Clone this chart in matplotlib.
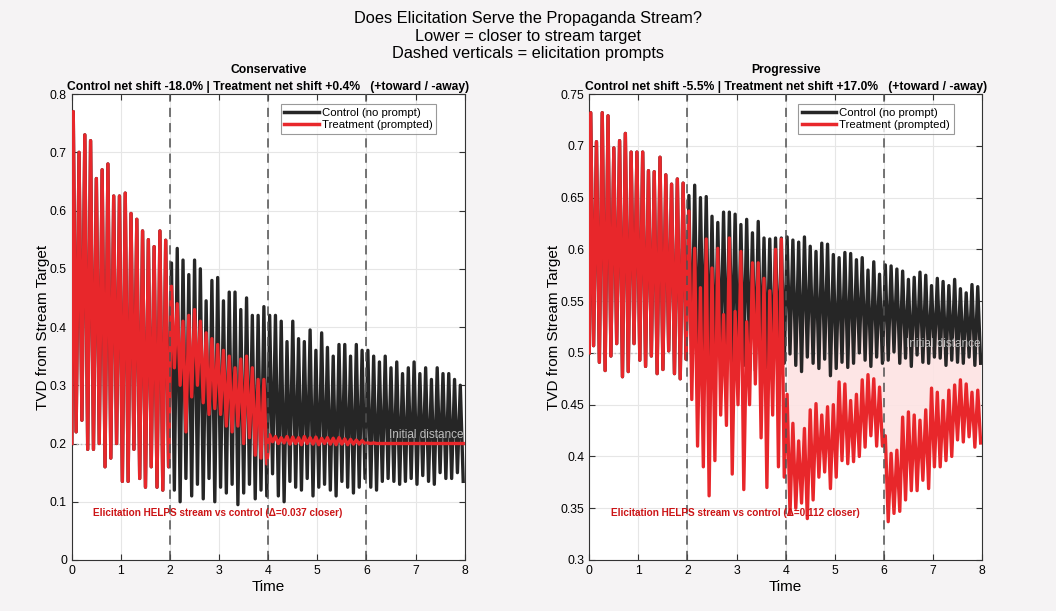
import numpy as np
import matplotlib
matplotlib.use("Agg")
import matplotlib.pyplot as plt
from matplotlib.ticker import FormatStrFormatter

plt.rcParams['font.family'] = ['Liberation Sans', 'DejaVu Sans']

# ---- data (peak / trough value of each oscillation cycle) ----
# 4 segments of 17 cycles each: 0-2, 2-4, 4-6, 6-8
prompt_times = [2, 4, 6]

# Conservative
cons_init = 0.20
cons_treat_peaks = [
    0.77, 0.70, 0.73, 0.72, 0.655, 0.67, 0.68, 0.625, 0.625, 0.63, 0.595, 0.585, 0.565, 0.55, 0.538, 0.565, 0.549,
    0.47, 0.44, 0.41, 0.42, 0.43, 0.41, 0.39, 0.38, 0.37, 0.36, 0.35, 0.33, 0.345, 0.35, 0.33, 0.31, 0.31,
    0.215, 0.212, 0.21, 0.212, 0.211, 0.21, 0.212, 0.21, 0.211, 0.209, 0.21, 0.209, 0.21, 0.208, 0.207, 0.206, 0.205,
    0.201, 0.201, 0.2, 0.2, 0.2, 0.2, 0.2, 0.2, 0.2, 0.2, 0.2, 0.2, 0.2, 0.2, 0.2, 0.2, 0.2,
]
cons_treat_troughs = [
    0.22, 0.24, 0.19, 0.19, 0.20, 0.16, 0.175, 0.20, 0.135, 0.135, 0.19, 0.14, 0.125, 0.16, 0.125, 0.12, 0.16,
    0.33, 0.30, 0.22, 0.28, 0.30, 0.27, 0.25, 0.26, 0.25, 0.23, 0.22, 0.23, 0.20, 0.21, 0.18, 0.175, 0.165,
    0.203, 0.20, 0.201, 0.199, 0.20, 0.198, 0.20, 0.199, 0.198, 0.20, 0.199, 0.198, 0.199, 0.198, 0.199, 0.199, 0.20,
    0.2, 0.2, 0.2, 0.2, 0.2, 0.2, 0.2, 0.2, 0.2, 0.2, 0.2, 0.2, 0.2, 0.2, 0.2, 0.2, 0.2,
]
cons_ctrl_peaks = cons_treat_peaks[:17] + [
    0.51, 0.535, 0.515, 0.49, 0.515, 0.50, 0.445, 0.48, 0.485, 0.445, 0.46, 0.46, 0.43, 0.45, 0.42, 0.42, 0.435,
    0.42, 0.42, 0.41, 0.375, 0.41, 0.38, 0.375, 0.395, 0.36, 0.39, 0.365, 0.35, 0.37, 0.37, 0.35, 0.37, 0.36,
    0.36, 0.35, 0.34, 0.35, 0.33, 0.34, 0.32, 0.33, 0.34, 0.32, 0.33, 0.31, 0.33, 0.32, 0.32, 0.31, 0.30,
]
cons_ctrl_troughs = cons_treat_troughs[:17] + [
    0.12, 0.10, 0.14, 0.11, 0.13, 0.105, 0.14, 0.10, 0.125, 0.115, 0.13, 0.095, 0.115, 0.13, 0.105, 0.12, 0.11,
    0.148, 0.11, 0.10, 0.135, 0.125, 0.12, 0.14, 0.11, 0.125, 0.13, 0.12, 0.11, 0.135, 0.125, 0.115, 0.125, 0.14,
    0.125, 0.12, 0.135, 0.14, 0.135, 0.13, 0.135, 0.14, 0.13, 0.145, 0.135, 0.13, 0.15, 0.14, 0.14, 0.15, 0.135,
]

# Progressive
prog_init = 0.50
prog_treat_peaks = [
    0.732, 0.704, 0.732, 0.729, 0.698, 0.705, 0.712, 0.694, 0.694, 0.694, 0.676, 0.675, 0.689, 0.672, 0.663, 0.668, 0.664,
    0.637, 0.601, 0.563, 0.61, 0.582, 0.601, 0.537, 0.611, 0.54, 0.598, 0.53, 0.587, 0.587, 0.572, 0.56, 0.60, 0.61,
    0.46, 0.432, 0.415, 0.427, 0.445, 0.451, 0.44, 0.448, 0.45, 0.472, 0.47, 0.454, 0.46, 0.474, 0.479, 0.475, 0.467,
    0.42, 0.403, 0.406, 0.438, 0.443, 0.44, 0.435, 0.445, 0.466, 0.462, 0.454, 0.464, 0.469, 0.474, 0.47, 0.462, 0.464,
]
prog_treat_troughs = [
    0.507, 0.491, 0.483, 0.497, 0.509, 0.477, 0.482, 0.509, 0.493, 0.487, 0.497, 0.480, 0.484, 0.502, 0.480, 0.475, 0.494,
    0.455, 0.41, 0.39, 0.362, 0.396, 0.44, 0.43, 0.383, 0.45, 0.368, 0.45, 0.47, 0.418, 0.37, 0.44, 0.39, 0.38,
    0.345, 0.35, 0.355, 0.34, 0.358, 0.38, 0.385, 0.369, 0.38, 0.396, 0.393, 0.395, 0.40, 0.409, 0.42, 0.41, 0.41,
    0.337, 0.345, 0.347, 0.358, 0.367, 0.367, 0.377, 0.369, 0.39, 0.39, 0.396, 0.40, 0.416, 0.414, 0.419, 0.409, 0.413,
]
prog_ctrl_peaks = prog_treat_peaks[:17] + [
    0.652, 0.662, 0.65, 0.651, 0.632, 0.626, 0.636, 0.636, 0.634, 0.624, 0.629, 0.616, 0.627, 0.611, 0.61, 0.611, 0.611,
    0.612, 0.609, 0.607, 0.612, 0.603, 0.598, 0.606, 0.605, 0.595, 0.592, 0.597, 0.596, 0.590, 0.592, 0.580, 0.588, 0.576,
    0.585, 0.584, 0.581, 0.579, 0.571, 0.573, 0.578, 0.575, 0.565, 0.572, 0.569, 0.565, 0.571, 0.562, 0.558, 0.566, 0.564,
]
prog_ctrl_troughs = prog_treat_troughs[:17] + [
    0.49, 0.482, 0.495, 0.486, 0.478, 0.49, 0.484, 0.492, 0.48, 0.488, 0.494, 0.483, 0.49, 0.486, 0.48, 0.488, 0.49,
    0.499, 0.488, 0.482, 0.496, 0.49, 0.485, 0.494, 0.478, 0.485, 0.491, 0.486, 0.49, 0.50, 0.493, 0.487, 0.496, 0.49,
    0.493, 0.501, 0.49, 0.495, 0.487, 0.498, 0.491, 0.49, 0.496, 0.495, 0.488, 0.493, 0.491, 0.49, 0.496, 0.488, 0.49,
]

panels = [
    dict(name="Conservative", init=cons_init, ylim=(0, 0.8), yticks=np.arange(0, 0.81, 0.1),
         ctrl=(cons_ctrl_peaks, cons_ctrl_troughs), treat=(cons_treat_peaks, cons_treat_troughs),
         ctrl_shift="-18.0%", treat_shift="+0.4%", delta="0.037", fill=False),
    dict(name="Progressive", init=prog_init, ylim=(0.3, 0.75), yticks=np.arange(0.3, 0.751, 0.05),
         ctrl=(prog_ctrl_peaks, prog_ctrl_troughs), treat=(prog_treat_peaks, prog_treat_troughs),
         ctrl_shift="-5.5%", treat_shift="+17.0%", delta="0.112", fill=True),
]

T_END = 8


def build_series(init, peaks, troughs):
    # each cycle contributes its peak then its trough, spaced evenly over time
    n = len(peaks)
    period = T_END / n
    t = [0.0]
    y = [init]
    for k in range(n):
        t += [(k + 0.25) * period, (k + 0.75) * period]
        y += [peaks[k], troughs[k]]
    return np.array(t), np.array(y)


BLACK = "#262626"
RED = "#e8272b"

fig = plt.figure(figsize=(10.56, 6.11), dpi=100, facecolor="#f5f3f4")
fig.text(0.5, 0.969, "Does Elicitation Serve the Propaganda Stream?", ha="center", va="center", fontsize=11.8)
fig.text(0.5, 0.941, "Lower = closer to stream target", ha="center", va="center", fontsize=11.8)
fig.text(0.5, 0.913, "Dashed verticals = elicitation prompts", ha="center", va="center", fontsize=11.8)

axes_pos = [[0.068, 0.0835, 0.372, 0.7625], [0.558, 0.0835, 0.372, 0.7625]]

for pos, p in zip(axes_pos, panels):
    ax = fig.add_axes(pos)
    ax.set_facecolor("white")

    tc, yc = build_series(p["init"], *p["ctrl"])
    tt, yt = build_series(p["init"], *p["treat"])

    if p["fill"]:
        ax.fill_between(tt, yt, yc, where=(tt >= 4) & (yt < yc), color="#fde3e3", alpha=0.9,
                        linewidth=0, zorder=1)

    ax.plot(tc, yc, color=BLACK, lw=2.4, solid_joinstyle="round", label="Control (no prompt)", zorder=3)
    ax.plot(tt, yt, color=RED, lw=2.4, solid_joinstyle="round", label="Treatment (prompted)", zorder=4)

    for pt in prompt_times:
        ax.axvline(pt, color="#505050", lw=1.1, linestyle=(0, (6, 4)), zorder=5)

    ax.axhline(p["init"], color="#bdbdbd", lw=1.0, linestyle=(0, (1, 2)), zorder=2)
    ax.text(7.97, p["init"] + (p["ylim"][1] - p["ylim"][0]) * 0.006, "Initial distance", ha="right",
            va="bottom", fontsize=8.5, color="#bcbcbc", zorder=6)

    ax.text(0.055, 0.10, "Elicitation HELPS stream vs control (\u0394=%s closer)" % p["delta"],
            transform=ax.transAxes, fontsize=7.2, fontweight="bold", color="#cc1416", ha="left",
            va="center", zorder=6)

    ax.set_xlim(0, 8)
    ax.set_ylim(*p["ylim"])
    ax.set_xticks(range(0, 9))
    ax.set_yticks(p["yticks"])
    ax.yaxis.set_major_formatter(FormatStrFormatter("%g"))
    ax.grid(True, color="#e6e6e6", lw=0.8, zorder=0)
    ax.set_axisbelow(True)
    ax.tick_params(direction="in", top=True, right=True, labelsize=8.8, length=4, color="#333333")
    for s in ax.spines.values():
        s.set_color("#333333")
        s.set_linewidth(0.8)

    ax.set_xlabel("Time", fontsize=11, labelpad=2)
    ax.set_ylabel("TVD from Stream Target", fontsize=11, labelpad=0)
    ax.set_title("%s\nControl net shift %s | Treatment net shift %s   (+toward / -away)"
                 % (p["name"], p["ctrl_shift"], p["treat_shift"]),
                 fontsize=8.7, fontweight="bold", pad=3, linespacing=1.5)

    leg = ax.legend(loc="upper right", fontsize=8.2, frameon=True, fancybox=False, edgecolor="#808080",
                    borderpad=0.3, handlelength=3.0, handletextpad=0.3, labelspacing=0.2,
                    bbox_to_anchor=(0.942, 0.99))
    leg.get_frame().set_linewidth(0.8)
    for line in leg.get_lines():
        line.set_linewidth(2.5)

fig.savefig("out.png", dpi=100, facecolor=fig.get_facecolor())
